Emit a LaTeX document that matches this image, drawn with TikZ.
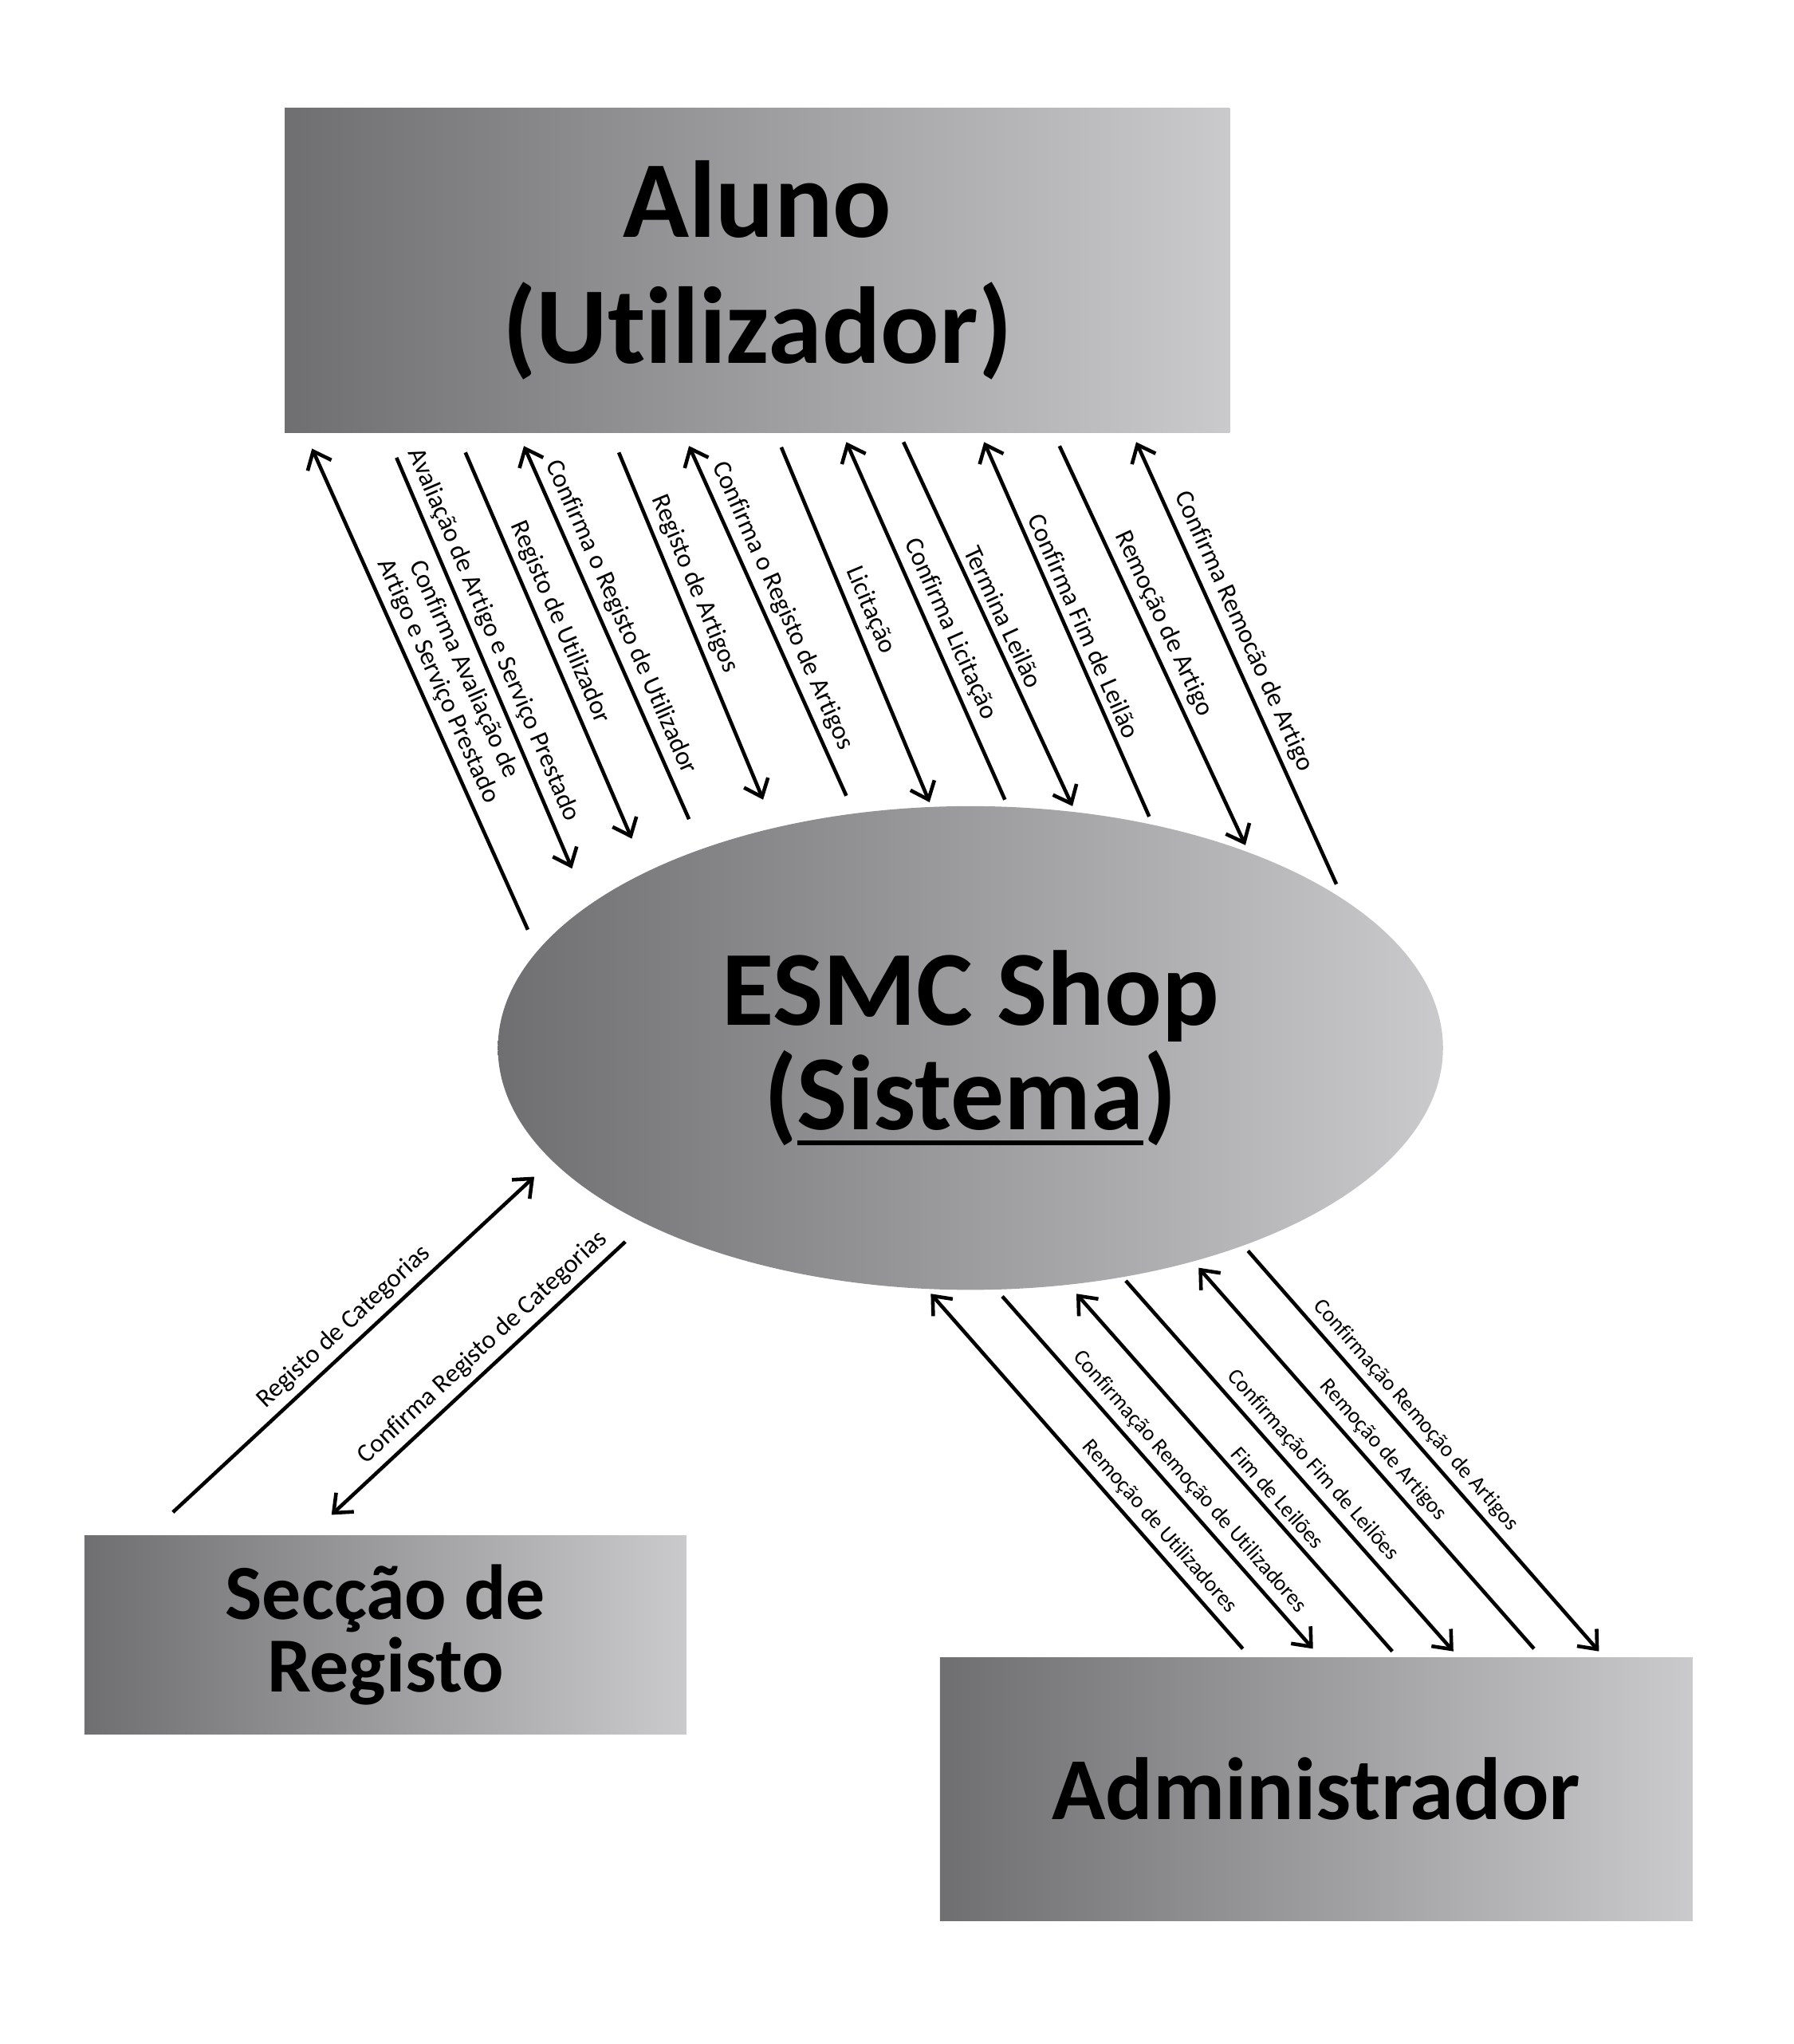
\documentclass[tikz,border=0pt]{standalone}
\usepackage{fontspec}
\setmainfont{Carlito}[Ligatures=NoCommon]
\usetikzlibrary{shapes.geometric}
\usetikzlibrary{arrows.meta}

\definecolor{cinzaesq}{HTML}{6F6F71}
\definecolor{cinzadir}{HTML}{CACACC}

\newcommand{\sublinhado}[1]{\setbox0\hbox{#1}\rlap{\rule[-6pt]{\wd0}{1.8pt}}\box0}

\begin{document}
\begin{tikzpicture}[x=0.5pt,y=-0.5pt,
	caixa/.style={rectangle,left color=cinzaesq,right color=cinzadir,inner sep=0pt,align=center},
	fluxo/.style={->,>={Straight Barb[length=6pt,width=10pt]},line width=1.4pt},
	rotulo/.style={sloped,above,inner sep=2.5pt,align=center,font=\fontsize{10}{11}\selectfont},
	rotulopeq/.style={rotulo,font=\fontsize{8.5}{10}\selectfont}]
	\useasboundingbox (0,0) rectangle (1380,1572);
	
	\node (aluno) at (582.5,208)[caixa,minimum width=363.5pt,minimum height=125pt,font=\bfseries\fontsize{42}{48.5}\selectfont]{Aluno\\(Utilizador)};
	\node (sistema) at (746.5,806)[caixa,ellipse,minimum width=363.5pt,minimum height=186pt,font=\bfseries\fontsize{41}{40}\selectfont]{ESMC Shop\\(\sublinhado{Sistema})};
	\node (seccao) at (296.5,1257.5)[caixa,minimum width=231.5pt,minimum height=76.5pt,font=\bfseries\fontsize{30}{28}\selectfont]{Secção de\\Registo};
	\node (admin) at (1012.5,1376)[caixa,minimum width=289.5pt,minimum height=101pt,font=\bfseries\fontsize{34}{40}\selectfont]{Administrador};
	
	% fluxos Aluno <-> Sistema
	\coordinate (s1) at (406,715);  \coordinate (e1) at (240,345);
	\coordinate (s2) at (305,352);  \coordinate (e2) at (440,668);
	\coordinate (s3) at (358,348);  \coordinate (e3) at (486,645);
	\coordinate (s4) at (530,630);  \coordinate (e4) at (403,343);
	\coordinate (s5) at (476,348);  \coordinate (e5) at (587,615);
	\coordinate (s6) at (651,612);  \coordinate (e6) at (530,343);
	\coordinate (s7) at (601,344);  \coordinate (e7) at (715,617);
	\coordinate (s8) at (773,615);  \coordinate (e8) at (651,340);
	\coordinate (s9) at (695,340);  \coordinate (e9) at (825,620);
	\coordinate (s10) at (884,628); \coordinate (e10) at (757,340);
	\coordinate (s11) at (815,343); \coordinate (e11) at (958,650);
	\coordinate (s12) at (1028,680); \coordinate (e12) at (874,340);
	
	\draw[fluxo] (s1) -- node[rotulo,pos=0.5]{Confirma Avaliação de\\Artigo e Serviço Prestado} (e1);
	\draw[fluxo] (s2) -- node[rotulo,pos=0.45]{Avaliação de Artigo e Serviço Prestado} (e2);
	\draw[fluxo] (s3) -- node[rotulo,pos=0.46]{Registo de Utilizador} (e3);
	\draw[fluxo] (s4) -- node[rotulo,pos=0.52]{Confirma o Registo de Utilizador} (e4);
	\draw[fluxo] (s5) -- node[rotulo,pos=0.4]{Registo de Artigos} (e5);
	\draw[fluxo] (s6) -- node[rotulo,pos=0.52]{Confirma o Registo de Artigos} (e6);
	\draw[fluxo] (s7) -- node[rotulo,pos=0.48]{Licitação} (e7);
	\draw[fluxo] (s8) -- node[rotulo,pos=0.455]{Confirma Licitação} (e8);
	\draw[fluxo] (s9) -- node[rotulo,pos=0.5]{Termina Leilão} (e9);
	\draw[fluxo] (s10) -- node[rotulo,pos=0.49]{Confirma Fim de Leilão} (e10);
	\draw[fluxo] (s11) -- node[rotulo,pos=0.466]{Remoção de Artigo} (e11);
	\draw[fluxo] (s12) -- node[rotulo,pos=0.553]{Confirma Remocão de Artigo} (e12);
	
	% fluxos Seccao de Registo <-> Sistema
	\coordinate (s13) at (133,1163); \coordinate (e13) at (411,905);
	\coordinate (s14) at (481,955);  \coordinate (e14) at (255,1165);
	\draw[fluxo] (s13) -- node[rotulo,pos=0.51]{Registo de Categorias} (e13);
	\draw[fluxo] (s14) -- node[rotulo,pos=0.44]{Confirma Registo de Categorias} (e14);
	
	% fluxos Administrador <-> Sistema
	\coordinate (s15) at (956,1268);  \coordinate (e15) at (716,995);
	\coordinate (s16) at (771,997);   \coordinate (e16) at (1010,1268);
	\coordinate (s17) at (1071,1270); \coordinate (e17) at (828,995);
	\coordinate (s18) at (866,985);   \coordinate (e18) at (1118,1270);
	\coordinate (s19) at (1180,1268); \coordinate (e19) at (922,975);
	\coordinate (s20) at (960,962);   \coordinate (e20) at (1230,1270);
	
	\draw[fluxo] (s15) -- node[rotulopeq,pos=0.31]{Remoção de Utilizadores} (e15);
	\draw[fluxo] (s16) -- node[rotulopeq,pos=0.56]{Confirmação Remoção de Utilizadores} (e16);
	\draw[fluxo] (s17) -- node[rotulopeq,pos=0.4]{Fim de Leilões} (e17);
	\draw[fluxo] (s18) -- node[rotulopeq,pos=0.53]{Confirmação Fim de Leilões} (e18);
	\draw[fluxo] (s19) -- node[rotulopeq,pos=0.49]{Remoção de Artigos} (e19);
	\draw[fluxo] (s20) -- node[rotulopeq,pos=0.44]{Confirmação Remoção de Artigos} (e20);
\end{tikzpicture}
\end{document}
